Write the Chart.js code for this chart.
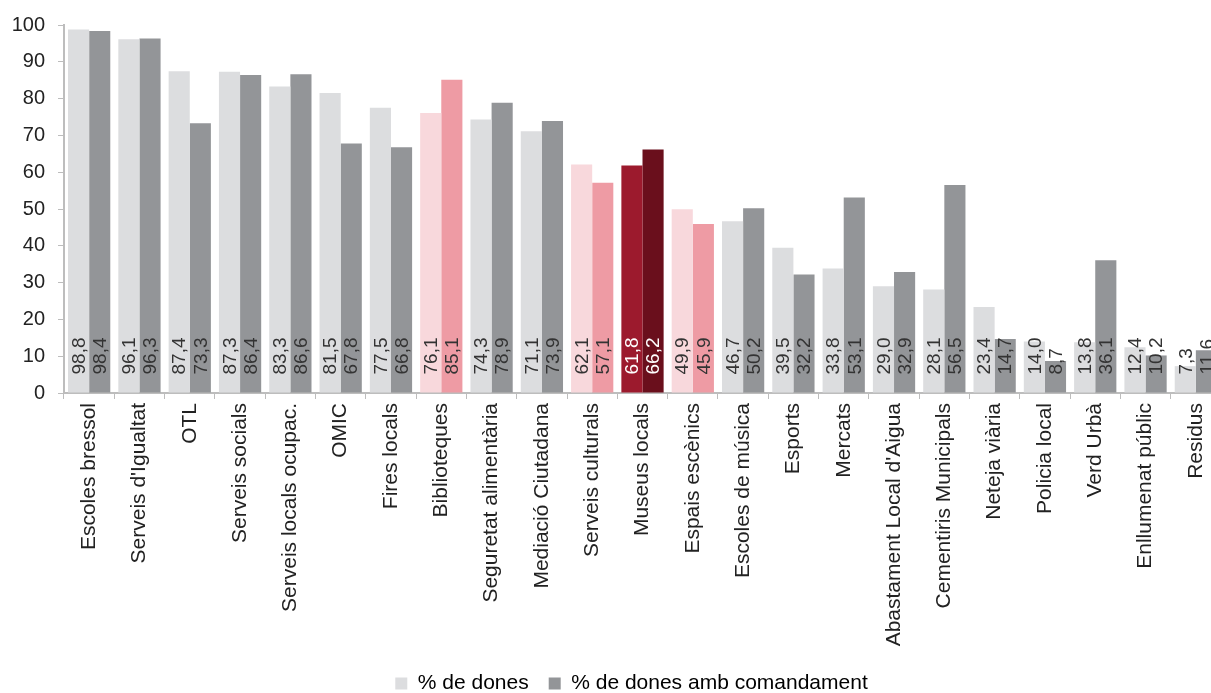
<!DOCTYPE html>
<html lang="ca">
<head>
    <meta charset="UTF-8">
    <title>% de dones per servei</title>
    <script src="https://cdn.jsdelivr.net/npm/chart.js"></script>
    <style>
        body { margin: 0; overflow: hidden; background: #fff; }
    </style>
</head>
<body>
    <canvas id="barChart" width="1264" height="693"></canvas>

    <script>
        const categories = ['Escoles bressol', "Serveis d'Igualtat", 'OTL', 'Serveis socials', 'Serveis locals ocupac.',
            'OMIC', 'Fires locals', 'Biblioteques', 'Seguretat alimentària', 'Mediació Ciutadana', 'Serveis culturals',
            'Museus locals', 'Espais escènics', 'Escoles de música', 'Esports', 'Mercats', "Abastament Local d'Aigua",
            'Cementiris Municipals', 'Neteja viària', 'Policia local', 'Verd Urbà', 'Enllumenat públic', 'Residus'];
        const dones = [98.8, 96.1, 87.4, 87.3, 83.3, 81.5, 77.5, 76.1, 74.3, 71.1, 62.1, 61.8, 49.9, 46.7, 39.5, 33.8, 29.0, 28.1, 23.4, 14.0, 13.8, 12.4, 7.3];
        const donesComandament = [98.4, 96.3, 73.3, 86.4, 86.6, 67.8, 66.8, 85.1, 78.9, 73.9, 57.1, 66.2, 45.9, 50.2, 32.2, 53.1, 32.9, 56.5, 14.7, 8.7, 36.1, 10.2, 11.6];
        const yTicks = [0, 10, 20, 30, 40, 50, 60, 70, 80, 90, 100];

        const pinkCats = ['Biblioteques', 'Serveis culturals', 'Espais escènics'];
        const redCats = ['Museus locals'];

        // [light, dark] for each colour group
        const palette = {
            grey: ['#dcdddf', '#939598'],
            pink: ['#f8d8dc', '#ee9ba4'],
            red: ['#9c1a2d', '#6a0f1c']
        };

        function groupOf(i) {
            if (i === undefined) return 'grey';
            if (pinkCats.includes(categories[i])) return 'pink';
            if (redCats.includes(categories[i])) return 'red';
            return 'grey';
        }

        const valueLabels = {
            id: 'valueLabels',
            afterDatasetsDraw(chart) {
                const ctx = chart.ctx;
                ctx.save();
                ctx.font = '19px "Liberation Sans", Arial, sans-serif';
                ctx.textAlign = 'left';
                ctx.textBaseline = 'middle';
                chart.data.datasets.forEach((ds, di) => {
                    chart.getDatasetMeta(di).data.forEach((bar, i) => {
                        const txt = ds.data[i].toFixed(1).replace('.', ',');
                        ctx.save();
                        ctx.translate(bar.x + 1, bar.base - 18);
                        ctx.rotate(-Math.PI / 2);
                        ctx.fillStyle = groupOf(i) === 'red' ? '#ffffff' : '#333333';
                        ctx.fillText(txt, 0, 0);
                        ctx.restore();
                    });
                });
                ctx.restore();
            }
        };

        // centre the legend on the full canvas, not the padded box
        const legendShift = {
            id: 'legendShift',
            afterLayout(chart) {
                chart.legend.left += 21;
                chart.legend.right += 21;
            }
        };

        const ctx = document.getElementById('barChart').getContext('2d');
        new Chart(ctx, {
            type: 'bar',
            data: {
                labels: categories,
                datasets: [{
                    label: '% de dones',
                    data: dones,
                    backgroundColor: c => palette[groupOf(c.dataIndex)][0],
                    categoryPercentage: 0.84,
                    barPercentage: 1
                },
                {
                    label: '% de dones amb comandament',
                    data: donesComandament,
                    backgroundColor: c => palette[groupOf(c.dataIndex)][1],
                    categoryPercentage: 0.84,
                    barPercentage: 1
                }]
            },
            options: {
                responsive: false,
                animation: false,
                layout: { padding: { top: 24, right: 43, left: 0, bottom: -11 } },
                plugins: {
                    tooltip: { enabled: false },
                    legend: {
                        position: 'bottom',
                        labels: {
                            boxWidth: 12,
                            boxHeight: 12,
                            padding: 20,
                            color: '#222',
                            font: { family: '"Liberation Sans", Arial, sans-serif', size: 21 },
                            generateLabels: chart => chart.data.datasets.map((ds, i) => ({
                                text: ds.label,
                                fillStyle: palette.grey[i],
                                strokeStyle: palette.grey[i],
                                lineWidth: 0,
                                datasetIndex: i
                            }))
                        }
                    }
                },
                scales: {
                    x: {
                        afterFit: s => { s.height = 260; },
                        grid: { display: true, drawOnChartArea: false, drawTicks: true, tickLength: 6, color: '#bdbdbd', offset: true },
                        border: { color: '#bdbdbd', width: 2 },
                        ticks: {
                            maxRotation: 90,
                            minRotation: 90,
                            autoSkip: false,
                            padding: 4,
                            color: '#222',
                            font: { family: '"Liberation Sans", Arial, sans-serif', size: 21 }
                        }
                    },
                    y: {
                        min: 0,
                        max: 100,
                        afterFit: s => { s.width = 64; },
                        afterBuildTicks: s => { s.ticks = yTicks.map(v => ({ value: v })); },
                        grid: { display: true, drawOnChartArea: false, drawTicks: true, tickLength: 6, color: '#bdbdbd' },
                        border: { color: '#bdbdbd', width: 2 },
                        ticks: {
                            padding: 13,
                            color: '#222',
                            font: { family: '"Liberation Sans", Arial, sans-serif', size: 20 }
                        }
                    }
                }
            },
            plugins: [valueLabels, legendShift]
        });
    </script>
</body>
</html>
